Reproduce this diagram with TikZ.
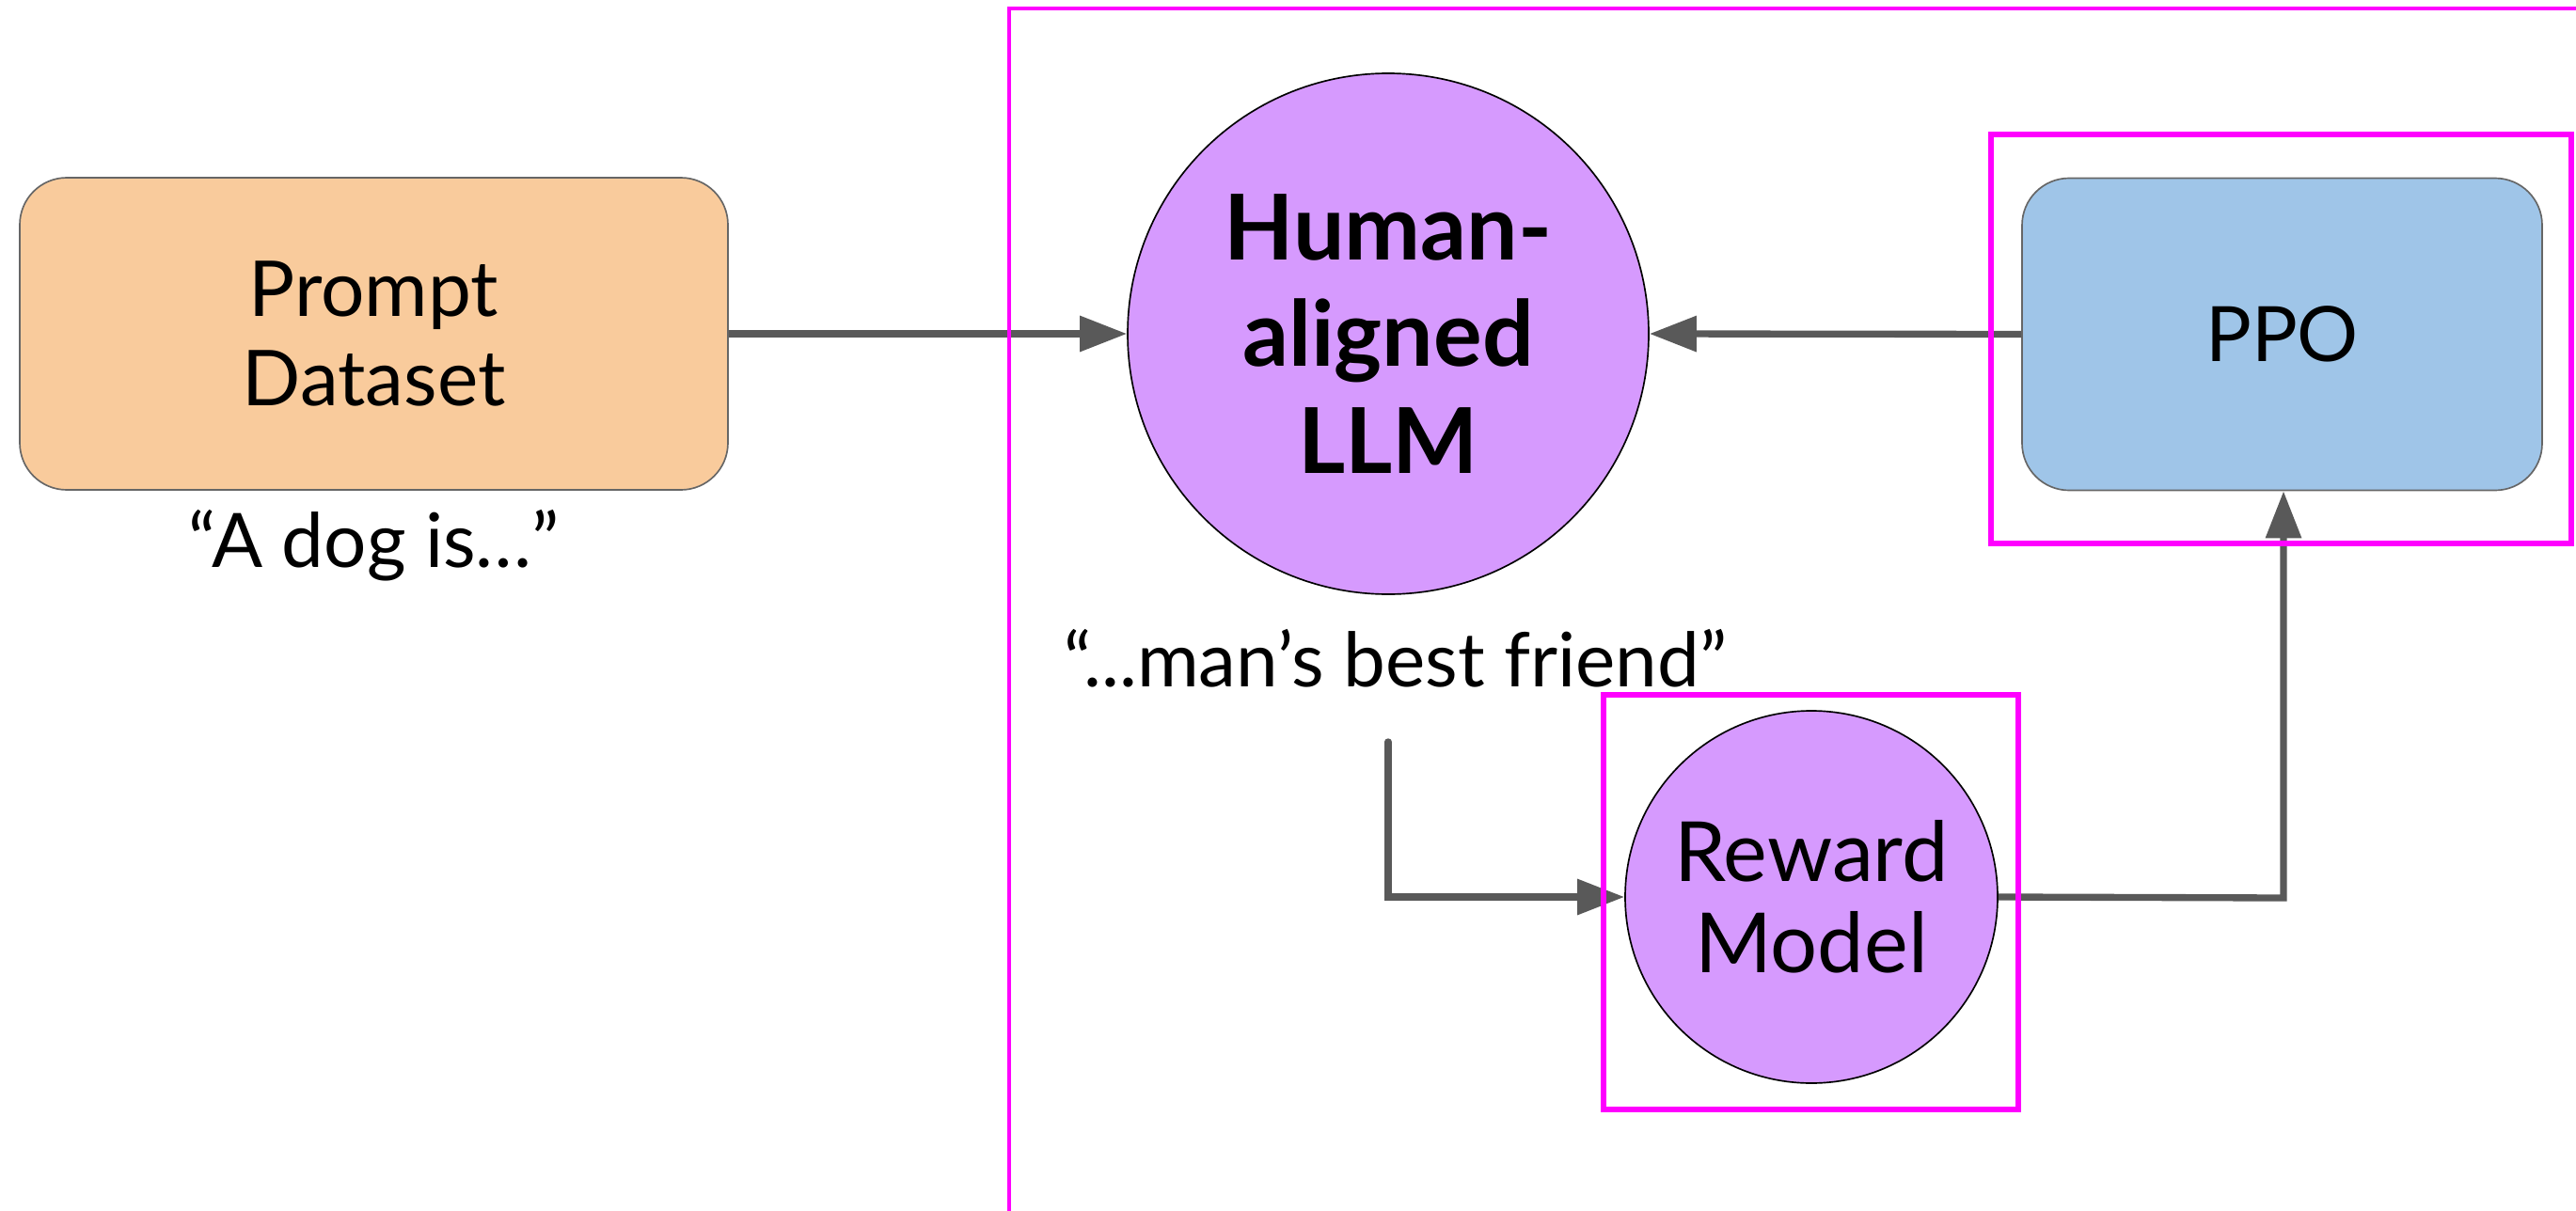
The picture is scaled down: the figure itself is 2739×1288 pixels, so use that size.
\documentclass[tikz,border=0pt]{standalone}
\usepackage{fontspec}
\setmainfont{Lato}
\usetikzlibrary{arrows.meta}
\definecolor{orangefill}{HTML}{F9CB9C}
\definecolor{purplefill}{HTML}{D69AFE}
\definecolor{bluefill}{HTML}{9FC5E8}
\definecolor{arrowgray}{HTML}{595959}
\definecolor{edgegray}{HTML}{666666}
\definecolor{magentaline}{HTML}{FF00FF}
\tikzset{
  roundbox/.style={rectangle, rounded corners=15pt, draw=edgegray, line width=0.5pt,
    minimum width=225.9pt, minimum height=99.6pt, inner sep=0pt, align=center,
    font=\fontsize{24.6pt}{28.5pt}\selectfont},
  bubble/.style={circle, draw=black, line width=0.5pt, fill=purplefill, inner sep=0pt, align=center},
  caption/.style={inner sep=0pt, font=\fontsize{24pt}{28pt}\selectfont},
  flow/.style={draw=arrowgray, line width=2.2pt, -{Triangle[length=15pt,width=11pt]}},
  frame/.style={draw=magentaline, line width=2pt}
}
\begin{document}
\begin{tikzpicture}[x=0.3pt,y=-0.3pt]
\useasboundingbox (0,0) rectangle (2739,1288);
% nodes
\node[roundbox, fill=orangefill] (prompt) at (397.5,355) {Prompt\\Dataset};
\node[caption, anchor=base] (dog) at (398,603) {“A dog is…”};
\node[bubble, minimum size=166.2pt, font=\bfseries\fontsize{29pt}{34pt}\selectfont] (llm) at (1476,355) {Human-\\aligned\\LLM};
\node[caption, anchor=base] (out) at (1484,730) {“...man’s best friend”};
\node[roundbox, fill=bluefill, minimum width=165.9pt, font=\fontsize{24.4pt}{28.5pt}\selectfont] (ppo) at (2426.5,355.5) {PPO};
\node[bubble, minimum size=118.8pt, font=\fontsize{26.5pt}{29pt}\selectfont] (rm) at (1926,954) {Reward\\Model};
\coordinate (outstart) at (1476,789);
\coordinate (rmcorner) at (2428,955);
% connectors
\draw[flow, line cap=round] (outstart) |- (rm.west);
\draw[flow] (prompt.east) -- (llm.west);
\draw[flow] (ppo.west) -- (llm.east);
\draw[flow] (rm.east) -- (rmcorner) -- (rmcorner |- ppo.south);
% frames
\draw[draw=magentaline, line width=1pt] (1073,1300) -- (1073,9) -- (2750,9);
\draw[frame] (2117,143) rectangle (2734,578);
\draw[frame] (1705,739) rectangle (2146,1180);
\end{tikzpicture}
\end{document}
